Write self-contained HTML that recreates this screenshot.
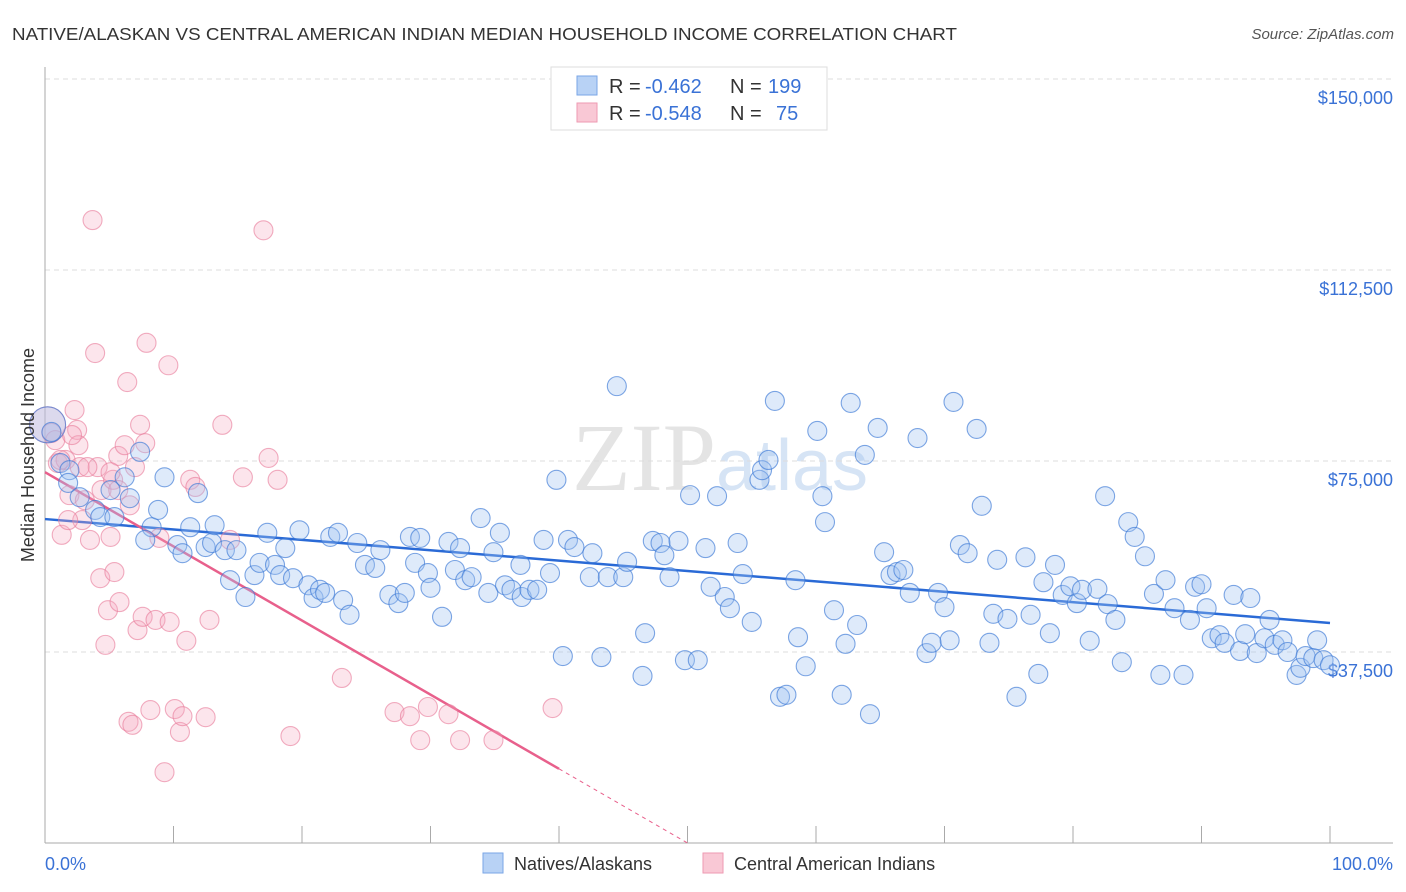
<!DOCTYPE html>
<html><head><meta charset="utf-8">
<style>
body{margin:0;background:#fff;font-family:"Liberation Sans",sans-serif;}
svg{display:block}
</style></head>
<body>
<svg id="chart" width="1406" height="892" xmlns="http://www.w3.org/2000/svg">
<text x="12" y="40" font-size="17.5" fill="#333" textLength="945" lengthAdjust="spacingAndGlyphs">NATIVE/ALASKAN VS CENTRAL AMERICAN INDIAN MEDIAN HOUSEHOLD INCOME CORRELATION CHART</text>
<text x="1394" y="39" font-size="15" fill="#555" font-style="italic" text-anchor="end">Source: ZipAtlas.com</text>
<text x="720" y="490" font-size="96" fill="#e4e4e4" text-anchor="middle" font-family="Liberation Serif,serif">ZIP<tspan fill="#d6e4f5" font-family="Liberation Sans,sans-serif" font-size="72">atlas</tspan></text>
<g id="grid"></g>
<g id="axes"></g>
<g id="trend"></g>
<g id="pts"></g>
<g>
<rect x="551" y="67" width="276" height="63" fill="#fff" stroke="#ddd"/>
<rect x="577" y="76" width="20" height="19" fill="#b8d2f5" stroke="#7aa6e6"/>
<rect x="577" y="103" width="20" height="19" fill="#f9c8d5" stroke="#ee9ab2"/>
<text y="93" font-size="20"><tspan x="609" fill="#333">R = </tspan><tspan x="645" fill="#3a72d6">-0.462</tspan><tspan x="730" fill="#333">N = </tspan><tspan x="768" fill="#3a72d6">199</tspan></text>
<text y="120" font-size="20"><tspan x="609" fill="#333">R = </tspan><tspan x="645" fill="#3a72d6">-0.548</tspan><tspan x="730" fill="#333">N = </tspan><tspan x="776" fill="#3a72d6">75</tspan></text>
</g>
<text transform="translate(34,455) rotate(-90)" font-size="18" fill="#333" text-anchor="middle">Median Household Income</text>
<text x="45" y="870" font-size="18" fill="#3a72d6">0.0%</text>
<text x="1393" y="870" font-size="18" fill="#3a72d6" text-anchor="end">100.0%</text>
<rect x="483" y="853" width="20" height="20" fill="#b8d2f5" stroke="#7aa6e6"/>
<text x="514" y="870" font-size="18" fill="#333">Natives/Alaskans</text>
<rect x="703" y="853" width="20" height="20" fill="#f9c8d5" stroke="#ee9ab2"/>
<text x="734" y="870" font-size="18" fill="#333">Central American Indians</text>
</svg>
<script>
const yTicks=[37500,75000,112500,150000];
const yTickLabels=["$37,500","$75,000","$112,500","$150,000"];
const xTicks=[0,10,20,30,40,50,60,70,80,90,100];
const blueX=[0.2,0.5,1.2,1.9,1.8,2.7,3.9,4.3,5.1,5.4,6.2,6.6,7.4,8.3,8.8,7.8,9.3,10.3,10.7,11.3,11.9,12.5,13.0,13.2,14.0,14.4,14.9,15.6,16.3,16.7,17.3,17.9,18.3,18.7,19.3,19.8,20.5,20.9,21.4,21.8,22.2,22.8,23.2,23.7,24.3,24.9,25.7,26.1,26.8,27.5,28.0,28.4,28.8,29.2,29.8,30.0,30.9,31.4,31.9,32.3,32.7,33.2,33.9,34.5,34.9,35.4,35.8,36.3,37.0,37.1,37.7,38.3,38.8,39.3,39.8,40.3,40.7,41.2,42.4,42.6,43.3,43.8,44.5,45.0,45.3,46.7,46.5,47.3,47.9,48.2,48.6,49.3,49.8,50.2,50.8,51.4,51.8,52.3,52.9,53.3,53.9,54.3,55.0,55.6,55.8,56.3,56.8,57.2,57.7,58.4,58.6,59.2,60.1,60.5,60.7,61.4,62.0,62.3,62.7,63.2,63.8,64.2,64.8,65.3,65.8,66.3,66.8,67.3,67.9,68.6,69.0,69.5,70.0,70.4,70.7,71.2,71.8,72.5,72.9,73.5,73.8,74.1,74.9,75.6,76.3,76.7,77.3,77.7,78.2,78.6,79.2,79.8,80.3,80.7,81.3,81.9,82.5,82.7,83.3,83.8,84.3,84.8,85.6,86.3,86.8,87.2,87.9,88.6,89.1,89.5,90.0,90.4,90.8,91.4,91.8,92.5,93.0,93.4,93.8,94.3,94.9,95.3,95.7,96.3,96.7,97.4,97.7,98.1,98.7,99.0,99.5,100.0];
const blueY=[82.1,80.7,74.6,73.2,70.7,67.9,65.4,64.0,69.3,64.0,71.8,67.7,76.8,62.0,65.4,59.5,71.8,58.5,56.9,62.0,68.7,58.1,58.9,62.4,57.5,51.6,57.5,48.3,52.6,55.0,60.9,54.6,52.6,57.9,52.0,61.4,50.6,48.1,49.7,49.1,60.1,60.9,47.7,44.8,58.9,54.6,54.0,57.5,48.7,47.1,49.1,60.1,55.0,59.9,53.0,50.1,44.4,59.1,53.6,57.9,51.6,52.2,63.8,49.1,57.1,60.9,50.6,49.7,54.6,48.3,49.7,49.7,59.5,53.0,71.3,36.7,59.5,58.1,52.2,56.9,36.5,52.2,89.7,52.2,55.2,41.2,32.8,59.3,58.9,56.5,52.2,59.3,35.9,68.3,35.9,57.9,50.3,68.1,48.3,46.1,58.9,52.8,43.4,71.3,73.2,75.2,86.8,28.7,29.1,51.6,40.4,34.7,80.9,68.1,63.0,45.7,29.1,39.1,86.4,42.8,76.2,25.3,81.5,57.1,52.6,53.2,53.6,49.1,79.5,37.3,39.3,49.1,46.3,39.8,86.6,58.5,56.9,81.3,66.2,39.3,45.0,55.6,44.0,28.7,56.1,44.8,33.2,51.2,41.2,54.6,48.7,50.4,47.1,49.7,39.7,49.9,68.1,46.9,43.8,35.5,63.0,60.1,56.3,48.9,33.0,51.6,46.1,33.0,43.8,50.3,50.8,46.1,40.2,40.8,39.3,48.7,37.7,41.0,48.1,37.3,40.2,43.8,38.9,39.8,37.5,33.0,34.4,36.7,36.3,39.8,35.9,34.9];
const pinkX=[0.2,0.5,0.8,1.0,1.3,1.6,1.9,2.3,2.5,2.6,2.7,2.9,3.1,3.5,3.7,3.9,4.1,4.3,4.4,4.7,4.9,5.1,5.3,5.4,5.7,5.8,6.2,6.4,6.6,7.0,7.2,7.4,7.6,7.8,7.9,8.2,8.6,8.9,9.3,9.6,9.7,10.1,10.5,10.7,11.0,11.3,11.7,12.5,12.8,13.8,14.4,15.4,17.0,17.4,18.1,19.1,23.1,27.2,28.4,29.2,29.8,31.4,32.3,34.9,39.5,6.5,6.8,1.2,1.8,2.1,3.3,5.1,5.7];
const pinkY=[82.1,80.5,79.1,74.6,60.5,75.2,68.3,85.0,81.1,78.1,73.8,63.4,67.3,59.5,122.3,96.2,73.8,52.0,69.3,38.9,45.7,60.1,71.3,53.2,76.0,47.3,78.1,90.5,66.3,73.8,41.8,82.1,44.4,78.5,98.2,26.1,43.8,59.9,13.9,93.8,43.4,26.3,21.8,24.9,39.7,71.3,69.9,24.7,43.8,82.1,59.5,71.8,120.3,75.6,71.3,21.0,32.4,25.7,24.9,20.2,26.7,25.3,20.2,20.2,26.5,23.8,23.2,75.2,63.4,80.1,73.8,72.8,69.3];
const blueTrend=[63.6,43.2];
const pinkTrend=[72.8,0];
const pinkSolidEnd=40;
const X=p=>45+p*12.85;
const Y=k=>843-k*1000*191/37500;
const NS="http://www.w3.org/2000/svg";
function mk(tag,attrs,parent){const e=document.createElementNS(NS,tag);for(const k in attrs)e.setAttribute(k,attrs[k]);document.getElementById(parent).appendChild(e);return e;}
yTicks.forEach((v,i)=>{
  const l=mk('line',{x1:45,x2:1393,y1:Y(v/1000),y2:Y(v/1000),stroke:'#ddd','stroke-dasharray':'5,4'},'grid');
  
  
  const t=mk('text',{x:1393,y:Y(v/1000)+25,'font-size':18,fill:'#3a72d6','text-anchor':'end'},'grid');
  t.textContent=yTickLabels[i];
  
  
});
const ax=mk('line',{x1:45,x2:45,y1:67,y2:843,stroke:'#aaa'},'axes');


const bx=mk('line',{x1:45,x2:1393,y1:843,y2:843,stroke:'#aaa'},'axes');


xTicks.forEach(p=>{
  const t=mk('line',{x1:X(p),x2:X(p),y1:826,y2:843,stroke:'#aaa'},'axes');
  
  
});
function dot(x,y,r,fill,stroke,name){
  const c=mk('circle',{cx:X(x),cy:Y(y),r:r,fill:fill,stroke:stroke,'stroke-width':1.1},'pts');
  
  
}
pinkX.forEach((x,i)=>dot(x,pinkY[i],i==0?18:9.5,'rgba(246,170,192,0.3)','rgba(232,120,152,0.6)','central-american-point'));
blueX.forEach((x,i)=>dot(x,blueY[i],i==0?18:9.5,'rgba(160,196,240,0.35)','rgba(58,120,214,0.65)','natives-point'));
const bl=mk('line',{x1:X(0),y1:Y(blueTrend[0]),x2:X(100),y2:Y(blueTrend[1]),stroke:'#2a6ad6','stroke-width':2.5},'trend');


const pyAt=p=>pinkTrend[0]+(pinkTrend[1]-pinkTrend[0])*p/50;
const pl=mk('line',{x1:X(0),y1:Y(pinkTrend[0]),x2:X(pinkSolidEnd),y2:Y(pyAt(pinkSolidEnd)),stroke:'#e8608c','stroke-width':2.5},'trend');


const pd=mk('line',{x1:X(pinkSolidEnd),y1:Y(pyAt(pinkSolidEnd)),x2:X(50),y2:Y(pinkTrend[1]),stroke:'#e8608c','stroke-width':1,'stroke-dasharray':'4,4'},'trend');


</script>
</body></html>
